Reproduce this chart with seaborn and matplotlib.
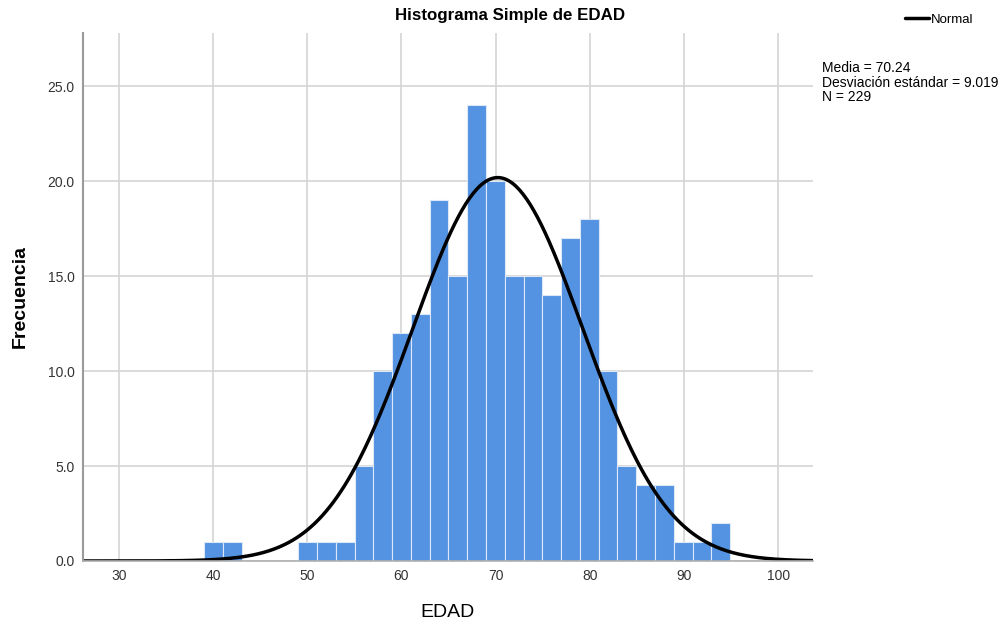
import numpy as np
import pandas as pd
import seaborn as sns
import matplotlib.pyplot as plt
from matplotlib.lines import Line2D

# Histogram bins (EDAD, width ~2 years) and counts
bin_edges = np.linspace(39.1, 94.9, 29)
counts = [1, 1, 0, 0, 0, 1, 1, 1, 5, 10, 12, 13, 19, 15,
          24, 20, 15, 15, 14, 17, 18, 10, 5, 4, 4, 1, 1, 2]

mean_age = 70.24
sd_age = 9.019
n_total = 229

hist_df = pd.DataFrame({
    'EDAD': (bin_edges[:-1] + bin_edges[1:]) / 2,
    'Frecuencia': counts,
})

sns.set_style("white")
plt.rcParams['font.family'] = ['Liberation Sans', 'DejaVu Sans']
plt.rcParams['text.color'] = 'black'
plt.rcParams['axes.labelcolor'] = 'black'

fig = plt.figure(figsize=(10.08, 6.25), dpi=100)
ax = fig.add_axes([0.0823, 0.1024, 0.7242, 0.8448])

sns.histplot(data=hist_df, x='EDAD', weights='Frecuencia', bins=list(bin_edges), ax=ax,
             color='#5492e2', alpha=1, edgecolor='#dce8f8', linewidth=0.8)

# Normal curve scaled to counts
bin_width = bin_edges[1] - bin_edges[0]
xs = np.linspace(26, 104, 400)
ys = n_total * bin_width * np.exp(-0.5 * ((xs - mean_age) / sd_age) ** 2) / (sd_age * np.sqrt(2 * np.pi))
sns.lineplot(x=xs, y=ys, ax=ax, color='black', linewidth=2.5)

ax.set_xlim(26.2, 103.7)
ax.set_ylim(0, 27.8)
ax.set_xticks(range(30, 101, 10))
ax.set_yticks([0, 5, 10, 15, 20, 25])
ax.set_yticklabels([f'{v:.1f}' for v in [0, 5, 10, 15, 20, 25]])
ax.tick_params(axis='both', length=0, labelsize=10, labelcolor='#333333', pad=6)
ax.grid(True, color='#d4d4d4', linewidth=1.2)
ax.set_axisbelow(True)

for side in ['top', 'right']:
    ax.spines[side].set_visible(False)
ax.spines['left'].set_color('#9a9a9a')
ax.spines['left'].set_linewidth(1.5)
ax.spines['bottom'].set_color('#b0b0b0')
ax.spines['bottom'].set_linewidth(1.2)

ax.set_xlabel('EDAD', fontsize=14, va='center')
ax.xaxis.set_label_coords(0.5, -0.097)
ax.set_ylabel('Frecuencia', fontsize=14, fontweight='bold', va='center')
ax.yaxis.set_label_coords(-0.086, 0.5)

fig.suptitle('Histograma Simple de EDAD', x=0.506, y=0.987, fontsize=12.2, fontweight='bold')

# Legend for the normal curve
fig.legend(handles=[Line2D([0], [0], color='black', linewidth=2.5)], labels=['Normal'],
           loc='upper left', bbox_to_anchor=(0.886, 0.997), frameon=False,
           fontsize=9.5, handlelength=1.8, handletextpad=0.2)

fig.text(0.815, 0.902,
         f'Media = {mean_age:.2f}\nDesviación estándar = {sd_age:.3f}\nN = {n_total}',
         fontsize=10, va='top', ha='left', linespacing=1.05)

plt.savefig('out.png', dpi=100)
